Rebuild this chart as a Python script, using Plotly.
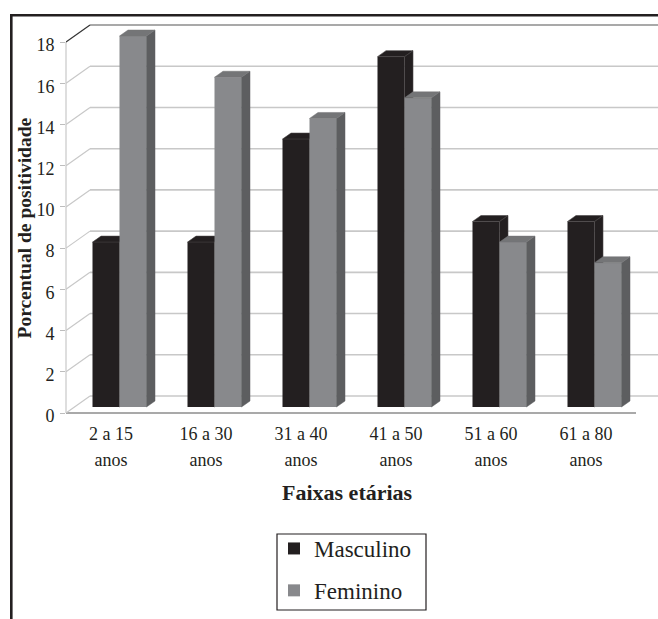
import plotly.graph_objects as go

# ---- data -------------------------------------------------------------
age_groups = ["2 a 15", "16 a 30", "31 a 40", "41 a 50", "51 a 60", "61 a 80"]
age_unit = "anos"
masculino = [8, 8, 13, 17, 9, 9]
feminino = [18, 16, 14, 15, 8, 7]
y_ticks = [0, 2, 4, 6, 8, 10, 12, 14, 16, 18]

# ---- page / plot geometry --------------------------------------------
W, H = 658, 619
L, R, T, B = 66, 0, 15, 206
PLOT_W = W - L - R
PLOT_H = H - T - B
CAT_PX = 95.0          # width of one category band
UNIT_PX = 20.61        # pixels per percentage point
X0 = -0.4737           # left edge of the first category band
x_range = [X0, X0 + PLOT_W / CAT_PX]
y_range = [0, PLOT_H / UNIT_PX]

# pseudo-3D depth
WALL_DX, WALL_DY = 24 / CAT_PX, 17 / UNIT_PX
BAR_DX, BAR_DY = 8.5 / CAT_PX, 6 / UNIT_PX
BAR_W = 27 / CAT_PX

INK = "#231f20"
GRAY_FRONT = "#88898c"
GRAY_SIDE = "#5d5e60"
GRAY_TOP = "#747577"
GRID = "#c8c8c8"
FONT = "Liberation Serif, Times New Roman, serif"

pos = list(range(len(age_groups)))


def px_x(px):
    return (px - L) / PLOT_W


def px_y(py):
    return (T + PLOT_H - py) / PLOT_H


def yp(v):
    return (v - y_range[0]) / (y_range[1] - y_range[0])


def xp(v):
    return (v - x_range[0]) / (x_range[1] - x_range[0])


def faces(values, offset):
    """Side and top faces of each bar as closed polygons."""
    sx, sy, tx, ty = [], [], [], []
    for i, v in zip(pos, values):
        xl = i + offset
        xr = xl + BAR_W
        b = BAR_DY
        t = BAR_DY + v
        sx += [xr, xr + BAR_DX, xr + BAR_DX, xr, xr, None]
        sy += [b, b + BAR_DY, t + BAR_DY, t, b, None]
        tx += [xl, xl + BAR_DX, xr + BAR_DX, xr, xl, None]
        ty += [t, t + BAR_DY, t + BAR_DY, t, t, None]
    return sx, sy, tx, ty


off_m = -BAR_W + BAR_DX
off_f = BAR_DX

fig = go.Figure()

# Masculino (first layer)
fig.add_trace(go.Bar(
    x=pos, y=masculino, base=[BAR_DY] * len(pos), offset=off_m, width=BAR_W,
    marker=dict(color=INK, line=dict(width=0)), name="Masculino",
    legendgroup="m", xaxis="x", yaxis="y", hoverinfo="skip"))
sx, sy, tx, ty = faces(masculino, off_m)
fig.add_trace(go.Scatter(
    x=sx + tx, y=sy + ty, mode="lines", fill="toself", fillcolor=INK,
    line=dict(color="#4a4647", width=0.6), showlegend=False,
    hoverinfo="skip", xaxis="x", yaxis="y"))

# Feminino (drawn on an overlaying layer so it sits in front)
fig.add_trace(go.Bar(
    x=pos, y=feminino, base=[BAR_DY] * len(pos), offset=off_f, width=BAR_W,
    marker=dict(color=GRAY_FRONT, line=dict(width=0)), name="Feminino",
    legendgroup="f", xaxis="x2", yaxis="y2", hoverinfo="skip"))
sx, sy, tx, ty = faces(feminino, off_f)
fig.add_trace(go.Scatter(
    x=sx, y=sy, mode="lines", fill="toself", fillcolor=GRAY_SIDE,
    line=dict(color=GRAY_SIDE, width=0.5), showlegend=False,
    hoverinfo="skip", xaxis="x2", yaxis="y2"))
fig.add_trace(go.Scatter(
    x=tx, y=ty, mode="lines", fill="toself", fillcolor=GRAY_TOP,
    line=dict(color=GRAY_TOP, width=0.5), showlegend=False,
    hoverinfo="skip", xaxis="x2", yaxis="y2"))

# ---- walls, floor, gridlines -----------------------------------------
shapes = []
for v in y_ticks:
    top = v == y_ticks[-1]
    shapes.append(dict(type="line", xref="x", yref="y", layer="below",
                       x0=X0 + WALL_DX, y0=v + WALL_DY, x1=x_range[1], y1=v + WALL_DY,
                       line=dict(color="#8c8c8c" if top else GRID, width=1.6)))
    shapes.append(dict(type="line", xref="x", yref="y", layer="below",
                       x0=X0, y0=v, x1=X0 + WALL_DX, y1=v + WALL_DY,
                       line=dict(color="#333333" if top else GRID, width=1.2)))
# front vertical edge of the side wall
shapes.append(dict(type="line", xref="paper", yref="paper", layer="below",
                   x0=0, x1=0, y0=yp(0), y1=yp(y_ticks[-1]),
                   line=dict(color=GRID, width=1.2)))
# front edge of the floor
shapes.append(dict(type="line", xref="paper", yref="paper", layer="below",
                   x0=0, x1=xp(X0 + len(pos)), y0=yp(0), y1=yp(0),
                   line=dict(color="#8c8c8c", width=1.6)))
# outer frame (top and left rules)
shapes.append(dict(type="line", xref="paper", yref="paper",
                   x0=px_x(10), x1=px_x(W + 2), y0=px_y(15.3), y1=px_y(15.3),
                   line=dict(color=INK, width=2.6)))
shapes.append(dict(type="line", xref="paper", yref="paper",
                   x0=px_x(11.3), x1=px_x(11.3), y0=px_y(15.3), y1=px_y(H + 2),
                   line=dict(color=INK, width=2.6)))
# legend box
shapes.append(dict(type="rect", xref="paper", yref="paper",
                   x0=px_x(277), x1=px_x(426), y0=px_y(534), y1=px_y(610),
                   line=dict(color=INK, width=1.2), fillcolor="rgba(0,0,0,0)"))

annotations = [
    dict(text="<b>Faixas etárias</b>", xref="paper", yref="paper",
         x=px_x(347), y=px_y(492), xanchor="center", yanchor="middle",
         showarrow=False, font=dict(family=FONT, size=22, color=INK)),
    dict(text="<b>Porcentual de positividade</b>", xref="paper", yref="paper",
         x=px_x(23.5), y=px_y(228), xanchor="center", yanchor="middle",
         textangle=-90, showarrow=False, font=dict(family=FONT, size=19.5, color=INK)),
]

tick_font = dict(family=FONT, size=18, color=INK)

fig.update_layout(
    width=W, height=H,
    font=dict(family=FONT, size=18, color=INK),
    margin=dict(l=L, r=R, t=T, b=B, pad=0),
    paper_bgcolor="white", plot_bgcolor="rgba(0,0,0,0)",
    barmode="overlay",
    showlegend=True,
    xaxis=dict(range=x_range, tickmode="array", tickvals=pos, ticktext=age_groups,
               showgrid=False, zeroline=False, showline=False, ticks="",
               tickfont=tick_font, ticklabelstandoff=8, fixedrange=True),
    xaxis2=dict(range=x_range, overlaying="x", anchor="y2", side="bottom",
                tickmode="array", tickvals=pos, ticktext=[age_unit] * len(pos),
                showgrid=False, zeroline=False, showline=False, ticks="",
                tickfont=tick_font, ticklabelstandoff=34, fixedrange=True),
    yaxis=dict(range=y_range, tickmode="array", tickvals=y_ticks,
               ticktext=[str(v) for v in y_ticks],
               showgrid=False, zeroline=False, showline=False,
               ticks="outside", ticklen=5, tickwidth=1.2, tickcolor="#bdbdbd",
               tickfont=tick_font, ticklabelstandoff=2, ticklabelshift=3,
               fixedrange=True),
    yaxis2=dict(range=y_range, overlaying="y", anchor="x2", visible=False,
                fixedrange=True),
    legend=dict(x=px_x(274), y=px_y(527), xanchor="left", yanchor="top",
                borderwidth=0, bgcolor="rgba(0,0,0,0)",
                font=dict(family=FONT, size=23, color=INK),
                traceorder="grouped", tracegroupgap=9),
    shapes=shapes,
    annotations=annotations,
)

fig.write_html("out.html")
